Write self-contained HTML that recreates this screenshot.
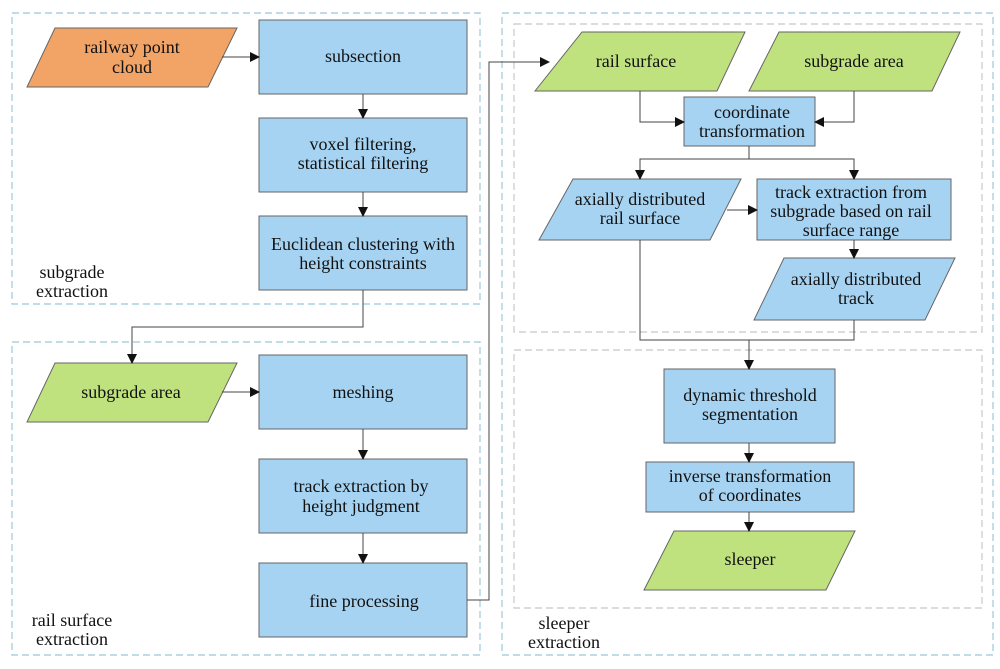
<!DOCTYPE html>
<html><head><style>
html,body{margin:0;padding:0;background:#fff;}
svg text{font-family:"Liberation Serif",serif;font-size:18px;fill:#111;text-anchor:middle;}
</style></head><body>
<svg width="1000" height="664" viewBox="0 0 1000 664" xmlns="http://www.w3.org/2000/svg">
<defs><marker id="a" markerWidth="10" markerHeight="10" refX="9" refY="5" orient="auto" markerUnits="userSpaceOnUse"><path d="M0,0 L10,5 L0,10 z" fill="#111"/></marker></defs>
<g fill="none" stroke-dasharray="7,4" stroke-width="1.2">
<rect x="12" y="13" width="468" height="291" stroke="#9cc7dc"/>
<rect x="12" y="342" width="468" height="313" stroke="#9cc7dc"/>
<rect x="502" y="13" width="491" height="642" stroke="#9cc7dc"/>
<rect x="514" y="24" width="468" height="308" stroke="#c8c8c8"/>
<rect x="514" y="350" width="468" height="258" stroke="#c8c8c8"/>
</g>
<g stroke="#666" stroke-width="1">
<polygon points="55,28 237,28 208,87 27,87" fill="#f2a366"/>
<rect x="259" y="20" width="208" height="74" fill="#a7d3f2"/>
<rect x="259" y="118" width="208" height="74" fill="#a7d3f2"/>
<rect x="259" y="216" width="208" height="74" fill="#a7d3f2"/>
<polygon points="55,363 237,363 208,422 27,422" fill="#bfe27e"/>
<rect x="259" y="355" width="208" height="74" fill="#a7d3f2"/>
<rect x="259" y="459" width="208" height="74" fill="#a7d3f2"/>
<rect x="259" y="563" width="208" height="74" fill="#a7d3f2"/>
<polygon points="582,32 745,32 717,91 535,91" fill="#bfe27e"/>
<polygon points="779,32 960,32 932,91 749,91" fill="#bfe27e"/>
<rect x="684" y="97" width="131" height="49" fill="#a7d3f2"/>
<polygon points="573,179 741,179 710,240 539,240" fill="#a7d3f2"/>
<rect x="757" y="179" width="194" height="61" fill="#a7d3f2"/>
<polygon points="784,258 955,258 925,320 754,320" fill="#a7d3f2"/>
<rect x="664" y="369" width="171" height="74" fill="#a7d3f2"/>
<rect x="646" y="462" width="208" height="50" fill="#a7d3f2"/>
<polygon points="674,531 855,531 826,590 644,590" fill="#bfe27e"/>
</g>
<g stroke="#444" stroke-width="1" fill="none" marker-end="url(#a)">
<path d="M222,57 H259"/>
<path d="M363,94 V118"/>
<path d="M363,192 V216"/>
<path d="M363,290 V327 H132 V363"/>
<path d="M222,392 H259"/>
<path d="M363,429 V459"/>
<path d="M363,533 V563"/>
<path d="M467,600 H489 V62 H549"/>
<path d="M640,91 V122 H684"/>
<path d="M854,91 V122 H815"/>
<path d="M749,146 V159 H640 V179"/>
<path d="M749,159 H854 V179"/>
<path d="M727,210 H757"/>
<path d="M854,240 V258"/>
<path d="M749,340 V369"/>
<path d="M749,443 V462"/>
<path d="M749,512 V531"/>
</g>
<path d="M640,240 V340 H854 V320" stroke="#444" fill="none"/>
<text x="132" y="53">railway point</text><text x="132" y="73">cloud</text>
<text x="363" y="62">subsection</text>
<text x="363" y="150">voxel filtering,</text><text x="363" y="169">statistical filtering</text>
<text x="363" y="250">Euclidean clustering with</text><text x="363" y="269">height constraints</text>
<text x="72" y="278">subgrade</text><text x="72" y="297">extraction</text>
<text x="131" y="398">subgrade area</text>
<text x="363" y="398">meshing</text>
<text x="361" y="492">track extraction by</text><text x="361" y="512">height judgment</text>
<text x="364" y="607">fine processing</text>
<text x="72" y="626">rail surface</text><text x="72" y="645">extraction</text>
<text x="636" y="67">rail surface</text>
<text x="854" y="67">subgrade area</text>
<text x="752" y="118">coordinate</text><text x="752" y="137">transformation</text>
<text x="640" y="205">axially distributed</text><text x="640" y="224">rail surface</text>
<text x="851" y="198">track extraction from</text><text x="851" y="217">subgrade based on rail</text><text x="851" y="236">surface range</text>
<text x="856" y="285">axially distributed</text><text x="856" y="304">track</text>
<text x="750" y="401">dynamic threshold</text><text x="750" y="420">segmentation</text>
<text x="750" y="482">inverse transformation</text><text x="750" y="501">of coordinates</text>
<text x="750" y="565">sleeper</text>
<text x="564" y="629">sleeper</text><text x="564" y="648">extraction</text>
</svg>
</body></html>
